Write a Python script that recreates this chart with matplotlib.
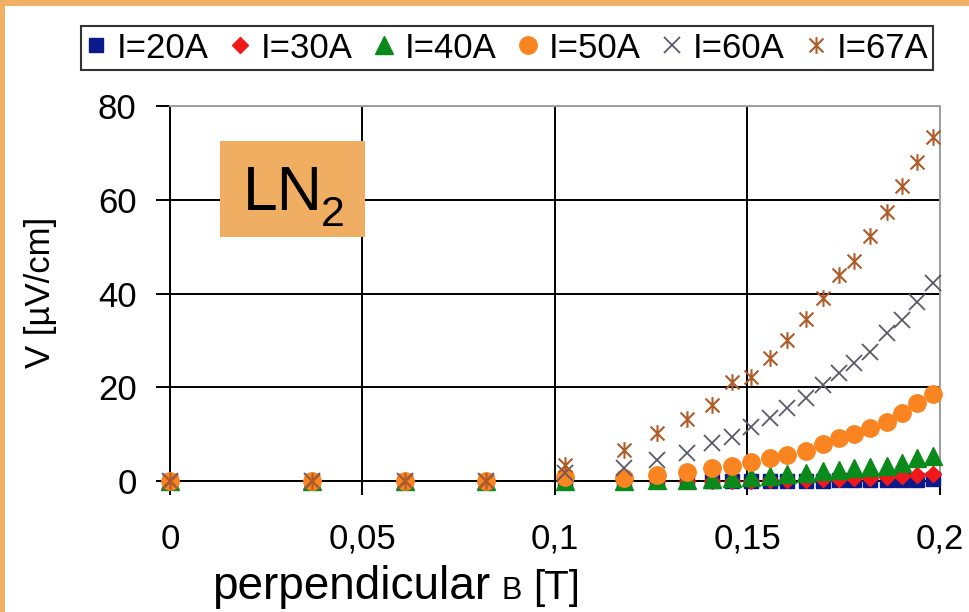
import matplotlib
matplotlib.use("Agg")
import matplotlib.pyplot as plt
from matplotlib.path import Path
from matplotlib.patches import Rectangle

plt.rcParams['font.family'] = ['Liberation Sans', 'DejaVu Sans']

# ---- data ----
B = [0, 0.037, 0.061, 0.082, 0.1026, 0.118, 0.1265, 0.1343, 0.1408, 0.146, 0.1509,
     0.1558, 0.1603, 0.1652, 0.1696, 0.1738, 0.1777, 0.1818, 0.1862, 0.1901, 0.194, 0.1982]
V20 = [0, 0, 0, 0, 0, 0, 0, 0, 0, 0, 0.05, 0.05, 0.1, 0.1, 0.1, 0.15, 0.15, 0.2, 0.2, 0.25, 0.3, 0.35]
V30 = [0, 0, 0, 0, 0, 0, 0, 0, 0, 0.1, 0.1, 0.2, 0.2, 0.3, 0.4, 0.5, 0.6, 0.7, 0.8, 1.0, 1.2, 1.4]
V40 = [0, 0, 0, 0, 0, 0.1, 0.2, 0.3, 0.4, 0.6, 0.9, 1.1, 1.4, 1.8, 2.1, 2.4, 2.8, 3.0, 3.3, 3.8, 5.0, 5.3]
V50 = [0, 0, 0, 0, 0.8, 0.7, 1.3, 2.0, 2.8, 3.1, 4.0, 4.9, 5.6, 6.5, 7.9, 9.1, 10.0, 11.3, 12.7, 14.5, 16.7, 18.6]
V60 = [0, 0, 0, 0, 1.7, 2.8, 4.5, 6.0, 8.1, 9.4, 11.6, 13.4, 15.6, 17.7, 20.5, 23.1, 25.2, 27.6, 31.7, 34.4, 38.3, 42.4]
V67 = [0, 0, 0, 0, 3.4, 6.6, 10.3, 13.3, 16.3, 21.2, 22.2, 26.3, 30.2, 34.7, 39.1, 43.9, 46.9, 52.4, 57.5, 63.1, 68.2, 73.4]
labels = ['I=20A', 'I=30A', 'I=40A', 'I=50A', 'I=60A', 'I=67A']
xticks = [0, 0.05, 0.1, 0.15, 0.2]
xticklabels = ['0', '0,05', '0,1', '0,15', '0,2']
yticks = [0, 20, 40, 60, 80]

# asterisk marker (x plus vertical bar)
ast = Path([(-0.5, -0.5), (0.5, 0.5), (-0.5, 0.5), (0.5, -0.5), (0, -0.6), (0, 0.6)],
           [Path.MOVETO, Path.LINETO, Path.MOVETO, Path.LINETO, Path.MOVETO, Path.LINETO])

styles = [
    dict(marker='s', color='#0A1A8A', ms=10, mec='#0A1A8A'),
    dict(marker='D', color='#F01818', ms=8.5, mec='#F01818'),
    dict(marker='^', color='#0A8A1A', ms=12.5, mec='#0A8A1A'),
    dict(marker='o', color='#FA8420', ms=12.5, mec='#FA8420'),
    dict(marker='x', color='#5A5A6A', ms=11, mew=1.3),
    dict(marker=ast, color='#B05A28', ms=12, mew=1.5, mfc='none'),
]
series = [V20, V30, V40, V50, V60, V67]

W, H = 970, 612
fig = plt.figure(figsize=(W / 100, H / 100), dpi=100)
fig.patch.set_facecolor('white')
ax = fig.add_axes([170 / W, 1 - 481 / H, (940 - 170) / W, (481 - 106.5) / H])

for vals, st, lab in zip(series, styles, labels):
    ax.plot(B, vals, linestyle='none', label=lab, clip_on=False, zorder=3, **st)

ax.set_xlim(0, 0.2)
ax.set_ylim(0, 80)
ax.set_xticks(xticks)
ax.set_xticklabels(xticklabels)
ax.set_yticks(yticks)
ax.grid(True, color='black', linewidth=1.4, zorder=1)
ax.set_axisbelow(True)
for s in ['top', 'right']:
    ax.spines[s].set_color('#A0A0A0')
    ax.spines[s].set_linewidth(1.4)
for s in ['left', 'bottom']:
    ax.spines[s].set_color('black')
    ax.spines[s].set_linewidth(1.4)
ax.tick_params(axis='both', direction='out', length=10, width=1.4, color='black')
ax.tick_params(axis='x', pad=20, labelsize=25)
ax.tick_params(axis='y', pad=14, labelsize=25)

ax.set_ylabel('V [µV/cm]', fontsize=25)
ax.yaxis.set_label_coords(57 / W, 1 - 292 / H, transform=fig.transFigure)

# legend
leg = fig.legend(loc='center', bbox_to_anchor=(507 / W, 1 - 48 / H), ncol=6, fontsize=25,
                 frameon=True, fancybox=False, edgecolor='black', handlelength=0.6,
                 handletextpad=0.3, columnspacing=0.6, borderpad=0.15, borderaxespad=0)
leg.get_frame().set_linewidth(1.5)

# LN2 box
fig.patches.append(Rectangle((220 / W, 1 - 237 / H), 145 / W, 96 / H, transform=fig.transFigure,
                             facecolor='#F0AE62', edgecolor='none', zorder=5))
fig.text(243 / W, 1 - 210 / H, 'LN', fontsize=45, va='baseline', ha='left', zorder=6)
fig.text(321 / W, 1 - 226 / H, '2', fontsize=31, va='baseline', ha='left', zorder=6)

# x label
fig.text(212 / W, 1 - 599 / H, 'perpendicular', fontsize=33, va='baseline', ha='left')
fig.text(502 / W, 1 - 599 / H, 'B', fontsize=22, va='baseline', ha='left')
fig.text(533 / W, 1 - 599 / H, '[T]', fontsize=29, va='baseline', ha='left')

# orange slide border (top and left)
fig.patches.append(Rectangle((0, 1 - 6 / H), 1, 6 / H, transform=fig.transFigure,
                             facecolor='#F2B066', edgecolor='none', zorder=10))
fig.patches.append(Rectangle((0, 0), 5 / W, 1, transform=fig.transFigure,
                             facecolor='#F2B066', edgecolor='none', zorder=10))

fig.savefig('out.png', dpi=100)
